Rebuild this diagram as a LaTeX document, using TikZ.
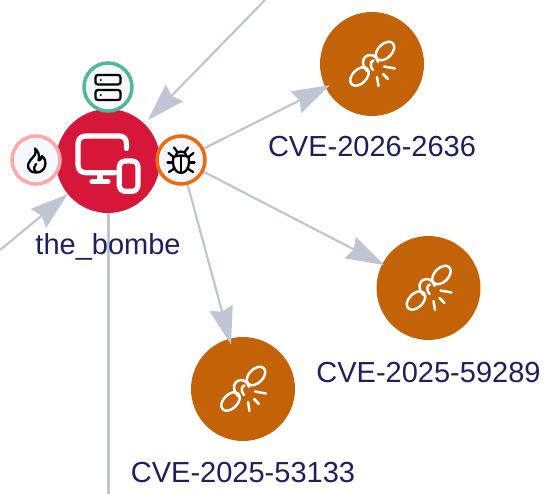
\documentclass[tikz,border=0pt]{standalone}
\usepackage{fontspec}
\setmainfont{Liberation Sans}
\usetikzlibrary{arrows.meta}
\pgfdeclarelayer{front}
\pgfsetlayers{main,front}
\definecolor{edgec}{HTML}{BFC5D3}
\definecolor{hostc}{HTML}{D6173A}
\definecolor{cvec}{HTML}{C46208}
\definecolor{txtc}{HTML}{1F1F5F}
\definecolor{badgef}{HTML}{F7F8FD}
\definecolor{gbadge}{HTML}{52B995}
\definecolor{pbadge}{HTML}{FFA8A5}
\definecolor{obadge}{HTML}{EE6A0C}
\tikzset{
  x=1pt,y=-1pt,
  cvenode/.style={circle,fill=cvec,minimum size=104pt,inner sep=0pt,outer sep=0pt},
  hostnode/.style={circle,fill=hostc,minimum size=104pt,inner sep=0pt,outer sep=0pt},
  badge/.style={circle,fill=badgef,line width=3.5pt,minimum size=48pt,inner sep=0pt,outer sep=0pt},
  lbl/.style={text=txtc,font=\fontsize{29}{29}\selectfont,inner sep=0pt,anchor=base},
  edgeline/.style={draw=edgec,line width=2.2pt,-{Stealth[length=38pt,width=24pt,inset=4pt]}},
  plainedge/.style={draw=edgec,line width=3pt},
  icon/.style={draw=black,line width=2.3pt,line cap=round,line join=round,fill=none},
  wicon/.style={draw=white,line width=5.2pt,line cap=round,line join=round,fill=none},
  cicon/.style={draw=white,line width=2.5pt,line cap=round,line join=round,fill=none},
  chainicon/.pic={
    \draw[cicon,rotate around={45:(13,-13)}] (13,-13) ellipse [x radius=11,y radius=7];
    \draw[cicon,rotate around={45:(-12.5,12.5)}] (-12.5,12.5) ellipse [x radius=11,y radius=7];
    \draw[cicon] (6,-2) .. controls (5,-7) and (1,-9) .. (-2,-9) .. controls (-7,-9) and (-9.5,-4) .. (-9,-1) .. controls (-8.5,3) and (-6,6.5) .. (-4,7.5);
    \draw[cicon] (1.5,-3.5) .. controls (-2,-3) and (-2,3) .. (1,6);
    \draw[cicon] (12,2.5) -- (23,4.5);
    \draw[cicon] (11,10) -- (16,15);
    \draw[cicon] (5,13) -- (6.5,22);
  }
}
\begin{document}
\begin{tikzpicture}
\useasboundingbox (0,0) rectangle (549,494);
\begin{pgfonlayer}{front}
  \node[hostnode] (host) at (108,161) {};
  \node[badge,draw=gbadge] (srv) at (108,87) {};
  \node[badge,draw=pbadge] (fire) at (36,160) {};
  \node[badge,draw=obadge] (bug) at (181,160) {};
\end{pgfonlayer}
\node[cvenode] (c1) at (372,64) {};
\node[cvenode] (c2) at (428.5,288) {};
\node[cvenode] (c3) at (243,389) {};
\coordinate (inA) at (265,0);
\coordinate (inB) at (0,250);
\coordinate (outD) at (108,494);
\draw[edgeline,shorten >=5pt] (inA) -- (host);
\draw[edgeline] (inB) -- (host);
\draw[plainedge] (host) -- (outD);
\draw[edgeline,shorten >=-5pt] (bug) -- (c1);
\draw[edgeline,shorten >=-2pt] (bug) -- (c2);
\draw[edgeline,shorten >=-6pt] (bug) -- (c3);
\pic at (c1) {chainicon};
\pic at (c2) {chainicon};
\pic at (c3) {chainicon};
\node[lbl] (l0) at (108,255) {the\_bombe};
\node[lbl] (l1) at (372,157) {CVE-2026-2636};
\node[lbl] (l2) at (428.5,382) {CVE-2025-59289};
\node[lbl] (l3) at (243,482) {CVE-2025-53133};
\begin{pgfonlayer}{front}
  % monitor and phone
  \begin{scope}[shift={(host.center)}]
    \draw[wicon] (18.5,-12.5) -- (18.5,-17) .. controls (18.5,-23) and (15,-25) .. (11,-25) -- (-22,-25) .. controls (-27,-25) and (-30,-22) .. (-30,-17) -- (-30,3.5) .. controls (-30,9) and (-27,11.7) .. (-22,11.7) -- (7,11.7);
    \draw[wicon] (-8,11.7) -- (-8,20.5);
    \draw[wicon] (-16,20.7) -- (0,20.7);
    \draw[wicon,rounded corners=6pt] (11.3,0) rectangle (30,30.3);
  \end{scope}
  % server
  \begin{scope}[shift={(srv.center)}]
    \draw[icon,rounded corners=2.5pt] (-12.5,-12) rectangle (12.5,-2.5);
    \draw[icon,rounded corners=2.5pt] (-12.5,3) rectangle (12.5,13);
    \draw[icon,line width=1.8pt] (-7.5,-7.3) -- (-7,-7.3);
    \draw[icon,line width=1.8pt] (-7.5,8) -- (-7,8);
  \end{scope}
  % flame
  \begin{scope}[shift={(fire.center)}]
    \draw[icon] (-1,-11.5) .. controls (1,-6) and (-2,-4) .. (-5.5,0) .. controls (-10,5) and (-8.5,12.5) .. (0,12.5) .. controls (8.5,12.5) and (10.5,5) .. (9,0) .. controls (8,-2) and (7,-3) .. (6,-4) .. controls (6,-1) and (4,0) .. (2.5,0.5) .. controls (4,-5) and (2,-9) .. (-1,-11.5) -- cycle;
    \draw[icon] (0,12) .. controls (-3,9) and (-2,6) .. (0,4);
  \end{scope}
  % bug
  \begin{scope}[shift={(bug.center)}]
    \draw[icon] (-7.5,-3) .. controls (-3,-5) and (3,-5) .. (7.5,-3) .. controls (9,3) and (8,12) .. (0,13) .. controls (-8,12) and (-9,3) .. (-7.5,-3) -- cycle;
    \draw[icon] (-5.5,-4) .. controls (-5.5,-10) and (5.5,-10) .. (5.5,-4);
    \draw[icon] (0,-3) -- (0,12);
    \draw[icon] (-4,-8.5) -- (-7,-12.5);
    \draw[icon] (4,-8.5) -- (7,-12.5);
    \draw[icon] (-7.5,-3) -- (-12.5,-7);
    \draw[icon] (7.5,-3) -- (12.5,-7);
    \draw[icon] (-8.5,2.5) -- (-13.5,2.5);
    \draw[icon] (8.5,2.5) -- (13.5,2.5);
    \draw[icon] (-6.5,8.5) -- (-12,12);
    \draw[icon] (6.5,8.5) -- (12,12);
  \end{scope}
\end{pgfonlayer}
\end{tikzpicture}
\end{document}
